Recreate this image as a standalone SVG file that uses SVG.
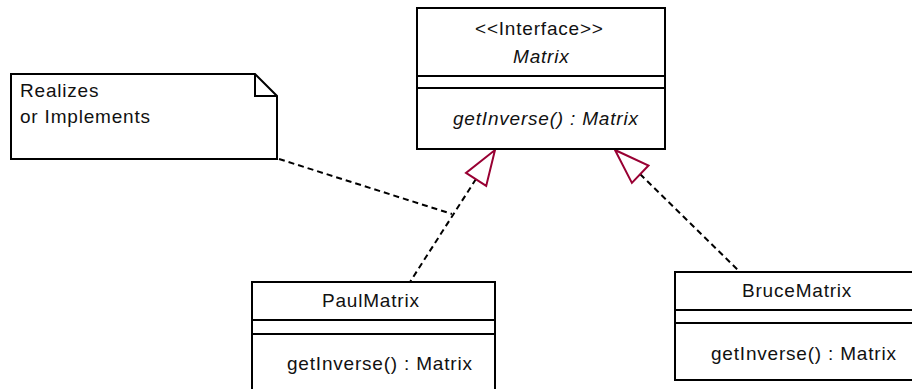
<svg xmlns="http://www.w3.org/2000/svg" width="912" height="389" viewBox="0 0 912 389">
<style>
.box{fill:#fff;stroke:#000;stroke-width:2}
.t{font-family:"Liberation Sans",Arial,sans-serif;font-size:19px;letter-spacing:0.8px;fill:#111}
.i{font-style:italic}
.dash{fill:none;stroke:#000;stroke-width:2;stroke-dasharray:6,4}
.head{fill:#fff;stroke:#990033;stroke-width:2}
</style>
<rect width="912" height="389" fill="#fff"/>
<g id="connectors">
<line class="dash" x1="476" y1="179" x2="410" y2="282"/>
<line class="dash" x1="640" y1="174" x2="740" y2="272"/>
<line class="dash" x1="279" y1="159" x2="452" y2="214"/>
<polygon class="head" points="495,150 486.2,185.9 466,172.9"/>
<polygon class="head" points="615,150 631.9,182.9 648.5,165.5"/>
</g>
<g id="note">
<polygon class="box" points="11,74 255,74 277,96 277,159 11,159"/>
<polyline fill="none" stroke="#000" stroke-width="2" points="255,74 255,96 277,96"/>
<text class="t" x="20" y="97">Realizes</text>
<text class="t" x="20" y="123">or Implements</text>
</g>
<g id="Matrix">
<rect class="box" x="417" y="8" width="248" height="141"/>
<line stroke="#000" stroke-width="2" x1="417" y1="76" x2="665" y2="76"/>
<line stroke="#000" stroke-width="2" x1="417" y1="88" x2="665" y2="88"/>
<text class="t" x="475" y="35">&lt;&lt;Interface&gt;&gt;</text>
<text class="t i" x="513" y="63">Matrix</text>
<text class="t i" x="453" y="125">getInverse() : Matrix</text>
</g>
<g id="PaulMatrix">
<rect class="box" x="252" y="282" width="243" height="130"/>
<line stroke="#000" stroke-width="2" x1="252" y1="320" x2="495" y2="320"/>
<line stroke="#000" stroke-width="2" x1="252" y1="334" x2="495" y2="334"/>
<text class="t" x="322" y="307">PaulMatrix</text>
<text class="t" x="287" y="370">getInverse() : Matrix</text>
</g>
<g id="BruceMatrix">
<rect class="box" x="675" y="272" width="260" height="108"/>
<line stroke="#000" stroke-width="2" x1="675" y1="310" x2="935" y2="310"/>
<line stroke="#000" stroke-width="2" x1="675" y1="323" x2="935" y2="323"/>
<text class="t" x="742" y="297">BruceMatrix</text>
<text class="t" x="711" y="360">getInverse() : Matrix</text>
</g>
</svg>
